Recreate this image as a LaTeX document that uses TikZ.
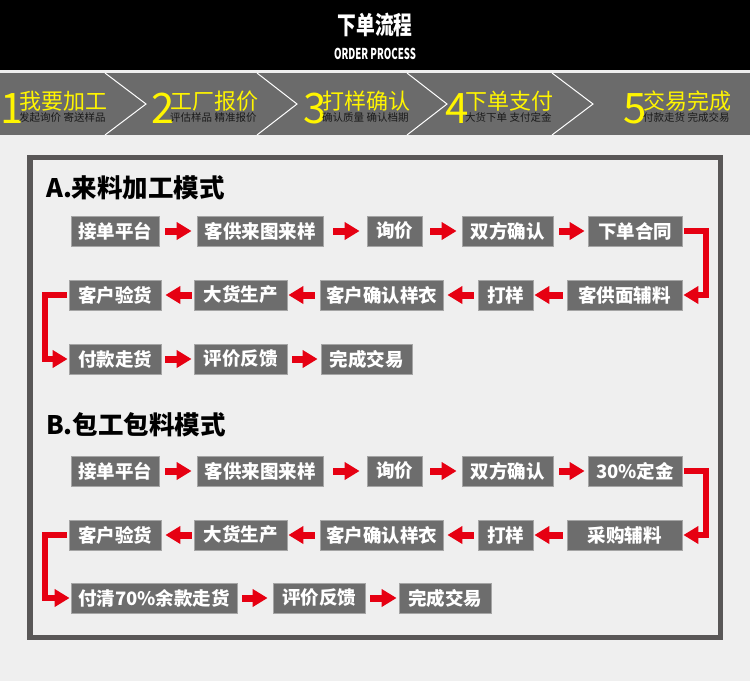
\documentclass[tikz,border=0pt]{standalone}
\usepackage{fontspec}
\usepackage{graphicx}
\setmainfont{Noto Sans CJK SC}
\usetikzlibrary{arrows.meta}
\definecolor{bg}{HTML}{EFEFEF}
\definecolor{bannergray}{HTML}{6B6B6B}
\definecolor{boxgray}{HTML}{6D6D6D}
\definecolor{boxedge}{HTML}{A5A5A5}
\definecolor{framegray}{HTML}{595757}
\definecolor{arrred}{HTML}{E60012}
\definecolor{stepyellow}{HTML}{FFF500}
\definecolor{subdark}{HTML}{1A1A1A}
\begin{document}
\begin{tikzpicture}[x=1pt,y=-1pt,
  box/.style={fill=boxgray, draw=boxedge, line width=0.8pt, text=white,
    font=\bfseries\fontsize{18.5}{18.5}\selectfont, inner sep=0pt, minimum height=30pt},
  flow/.style={draw=arrred, line width=7pt, -{Triangle[length=15pt,width=17pt]}},
  elbow/.style={draw=arrred, line width=6pt, -{Triangle[length=15pt,width=17pt]},
    shorten <=2pt, shorten >=1pt},
  chev/.style={draw=white, line width=1pt},
  digit/.style={text=stepyellow, font=\fontsize{42}{42}\selectfont, inner sep=0pt, anchor=base west},
  steptitle/.style={text=stepyellow, font=\fontsize{22}{22}\selectfont, inner sep=0pt, anchor=base west},
  stepsub/.style={text=subdark, font=\fontsize{10.5}{10.5}\selectfont, inner sep=0pt, anchor=base west},
  sectitle/.style={text=black, font=\bfseries\fontsize{25.5}{25.5}\selectfont, inner sep=0pt, anchor=west}
]
\useasboundingbox (0,0) rectangle (750,681);
\fill[bg] (0,0) rectangle (750,681);
% header
\fill[black] (0,0) rectangle (750,70);
\node[text=white, inner sep=0pt] (htitle) at (375,25)
  {\scalebox{0.75}[1]{\bfseries\fontsize{25}{25}\selectfont 下单流程}};
\node[text=white, inner sep=0pt] (hsub) at (375,54)
  {\scalebox{0.64}[1]{\bfseries\fontsize{15}{15}\selectfont ORDER PROCESS}};
% banner
\fill[bannergray] (0,73) rectangle (750,135);
\draw[chev] (105,73) -- (146,104) -- (105,135);
\draw[chev] (257,73) -- (297,104) -- (257,135);
\draw[chev] (407,73) -- (447,104) -- (407,135);
\draw[chev] (552,73) -- (593,104) -- (552,135);
\node[digit] (d1) at (0,123) {1};
\node[steptitle] (t1) at (19,109) {我要加工};
\node[stepsub] (s1) at (19,121) {发起询价 寄送样品};
\node[digit] (d2) at (151,123) {2};
\node[steptitle] (t2) at (170,109) {工厂报价};
\node[stepsub] (s2) at (170,121) {评估样品 精准报价};
\node[digit] (d3) at (303,123) {3};
\node[steptitle] (t3) at (322,109) {打样确认};
\node[stepsub] (s3) at (322,121) {确认质量 确认档期};
\node[digit] (d4) at (445,123) {4};
\node[steptitle] (t4) at (465,109) {下单支付};
\node[stepsub] (s4) at (465,121) {大货下单 支付定金};
\node[digit] (d5) at (623,123) {5};
\node[steptitle] (t5) at (643,109) {交易完成};
\node[stepsub] (s5) at (643,121) {付款走货 完成交易};
% frame
\draw[framegray, line width=5.5pt] (30,157.5) rectangle (720.5,637.5);
% ---------- Section A ----------
\node[sectitle] (ta) at (46,188) {A.来料加工模式};
\node[box, minimum width=88pt] (a1) at (115,231) {接单平台};
\node[box, minimum width=126pt] (a2) at (260,231) {客供来图来样};
\node[box, minimum width=55pt] (a3) at (394.5,231) {询价};
\node[box, minimum width=91pt] (a4) at (507.5,231) {双方确认};
\node[box, minimum width=94pt] (a5) at (635,231) {下单合同};
\node[box, minimum width=115pt] (a6) at (624.5,295) {客供面辅料};
\node[box, minimum width=55pt] (a7) at (505.5,295) {打样};
\node[box, minimum width=123pt] (a8) at (381.5,295) {客户确认样衣};
\node[box, minimum width=93pt] (a9) at (240.5,295) {大货生产};
\node[box, minimum width=92pt] (a10) at (115,295) {客户验货};
\node[box, minimum width=92pt] (a11) at (115,359) {付款走货};
\node[box, minimum width=93pt] (a12) at (240.5,359) {评价反馈};
\node[box, minimum width=91pt] (a13) at (366.5,359) {完成交易};
\draw[flow, shorten <=6pt, shorten >=5pt] (a1) -- (a2);
\draw[flow, shorten <=10pt, shorten >=7pt] (a2) -- (a3);
\draw[flow, shorten <=8pt, shorten >=5pt] (a3) -- (a4);
\draw[flow, shorten <=6pt, shorten >=3pt] (a4) -- (a5);
\draw[elbow] (a5.east) -- ++(24,0) |- (a6.east);
\draw[flow, shorten <=4pt, shorten >=1pt] (a6) -- (a7);
\draw[flow, shorten <=4pt, shorten >=4pt] (a7) -- (a8);
\draw[flow, shorten <=5pt, shorten >=1pt] (a8) -- (a9);
\draw[flow, shorten <=2pt, shorten >=4pt] (a9) -- (a10);
\draw[elbow] (a10.west) -- ++(-24,0) |- (a11.west);
\draw[flow, shorten <=4pt, shorten >=2pt] (a11) -- (a12);
\draw[flow, shorten <=5pt, shorten >=3pt] (a12) -- (a13);
% ---------- Section B ----------
\node[sectitle] (tb) at (46,425) {B.包工包料模式};
\node[box, minimum width=88pt] (b1) at (115,471) {接单平台};
\node[box, minimum width=126pt] (b2) at (260,471) {客供来图来样};
\node[box, minimum width=55pt] (b3) at (394.5,471) {询价};
\node[box, minimum width=91pt] (b4) at (507.5,471) {双方确认};
\node[box, minimum width=94pt] (b5) at (635,471) {30\%定金};
\node[box, minimum width=115pt] (b6) at (624.5,535) {采购辅料};
\node[box, minimum width=55pt] (b7) at (505.5,535) {打样};
\node[box, minimum width=123pt] (b8) at (381.5,535) {客户确认样衣};
\node[box, minimum width=93pt] (b9) at (240.5,535) {大货生产};
\node[box, minimum width=92pt] (b10) at (115,535) {客户验货};
\node[box, minimum width=166pt] (b11) at (154,598) {付清70\%余款走货};
\node[box, minimum width=92pt] (b12) at (319,598) {评价反馈};
\node[box, minimum width=92pt] (b13) at (445,598) {完成交易};
\draw[flow, shorten <=6pt, shorten >=5pt] (b1) -- (b2);
\draw[flow, shorten <=10pt, shorten >=7pt] (b2) -- (b3);
\draw[flow, shorten <=8pt, shorten >=5pt] (b3) -- (b4);
\draw[flow, shorten <=6pt, shorten >=3pt] (b4) -- (b5);
\draw[elbow] (b5.east) -- ++(24,0) |- (b6.east);
\draw[flow, shorten <=4pt, shorten >=1pt] (b6) -- (b7);
\draw[flow, shorten <=4pt, shorten >=4pt] (b7) -- (b8);
\draw[flow, shorten <=5pt, shorten >=1pt] (b8) -- (b9);
\draw[flow, shorten <=2pt, shorten >=4pt] (b9) -- (b10);
\draw[elbow] (b10.west) -- ++(-24,0) |- (b11.west);
\draw[flow, shorten <=5pt, shorten >=5pt] (b11) -- (b12);
\draw[flow, shorten <=5pt, shorten >=2pt] (b12) -- (b13);
\end{tikzpicture}
\end{document}
